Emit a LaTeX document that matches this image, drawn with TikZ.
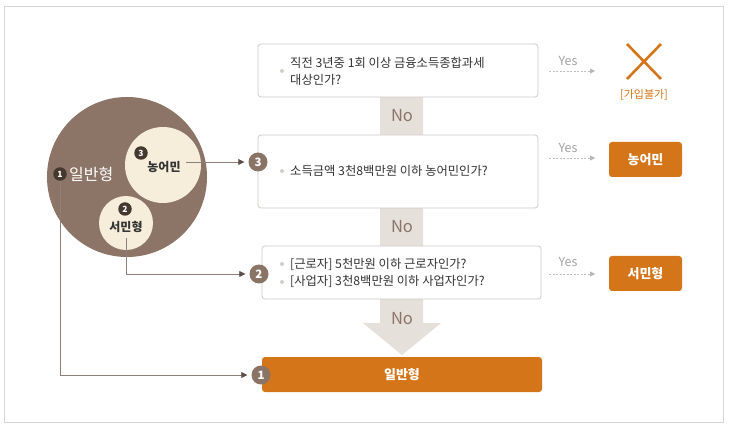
\documentclass[tikz,border=0pt]{standalone}
\usepackage{fontspec}
\setmainfont{Noto Sans CJK KR}
\usetikzlibrary{arrows.meta}
\definecolor{framec}{HTML}{D6D6D6}
\definecolor{bigbrown}{HTML}{8C7466}
\definecolor{cream}{HTML}{F6EEDB}
\definecolor{darkbadge}{HTML}{44382F}
\definecolor{flowbadge}{HTML}{8A7465}
\definecolor{orangec}{HTML}{D4751A}
\definecolor{bandc}{HTML}{E5E0DA}
\definecolor{boxline}{HTML}{D0CBC5}
\definecolor{txtc}{HTML}{333333}
\definecolor{noc}{HTML}{8C7466}
\definecolor{yesc}{HTML}{A3A3A3}
\definecolor{linec}{HTML}{8E8078}
\definecolor{tipc}{HTML}{5E5048}
\definecolor{dotc}{HTML}{D2CEC8}
\begin{document}
\begin{tikzpicture}[x=1pt,y=-1pt,
  qbox/.style={draw=boxline,fill=white,rounded corners=3pt,line width=0.8pt},
  obox/.style={fill=orangec,rounded corners=3pt},
  smallbadge/.style={circle,fill=darkbadge,inner sep=0pt,minimum size=13.5pt,text=white,font=\fontsize{8.5}{8.5}\selectfont\bfseries},
  flowbadge/.style={circle,fill=flowbadge,inner sep=0pt,minimum size=19pt,text=white,font=\fontsize{11.5}{11.5}\selectfont\bfseries},
  qtext/.style={anchor=west,text=txtc,font=\fontsize{12.3}{17}\selectfont,align=left,inner sep=0pt},
  notext/.style={text=noc,font=\fontsize{16.5}{16.5}\selectfont},
  yestext/.style={text=yesc,font=\fontsize{12.5}{12.5}\selectfont},
  otext/.style={text=white,font=\fontsize{13}{13}\selectfont\bfseries},
  ctext/.style={text=txtc,font=\fontsize{12}{12}\selectfont\bfseries},
  bulletdot/.style={circle,fill=dotc,inner sep=0pt,minimum size=4pt},
  conn/.style={draw=linec,line width=0.8pt,-{Triangle[length=6pt,width=6pt,color=tipc]}},
  yesarrow/.style={draw=yesc!70,dashed,dash pattern=on 2pt off 1.5pt,line width=0.6pt,-{Triangle[length=5pt,width=5pt,color=yesc!80]}}
]
\useasboundingbox (0,0) rectangle (732,433);
\fill[white] (0,0) rectangle (732,433);
\draw[framec,line width=1pt] (4,7) rectangle (723,422);

% flow band and arrow
\fill[bandc] (380,97) -- (423,97) -- (423,323) -- (441,323) -- (402,355) -- (363,323) -- (380,323) -- cycle;

% question boxes
\draw[qbox] (258,44) rectangle (538,97);
\draw[qbox] (258,135) rectangle (538,208);
\draw[qbox] (262,246) rectangle (541,299);
\fill[obox] (262,357) rectangle (542,392);

\node[bulletdot] (d1) at (282,71) {};
\node[qtext] (q1) at (290,71) {직전 3년중 1회 이상 금융소득종합과세\\대상인가?};
\node[bulletdot] (d2) at (282,171) {};
\node[qtext] (q2) at (290,171) {소득금액 3천8백만원 이하 농어민인가?};
\node[bulletdot] (d3a) at (282,264) {};
\node[bulletdot] (d3b) at (282,282) {};
\node[qtext] (q3) at (290,273) {[근로자] 5천만원 이하 근로자인가?\\{}[사업자] 3천8백만원 이하 사업자인가?};
\node[otext] (gen) at (402,375) {일반형};

\node[notext] (no1) at (402,116) {No};
\node[notext] (no2) at (402,227) {No};
\node[notext] (no3) at (402,319) {No};

% yes arrows
\node[yestext] (y1) at (568,61) {Yes};
\node[yestext] (y2) at (568,148) {Yes};
\node[yestext] (y3) at (568,262) {Yes};
\coordinate (ya1) at (549,71); \coordinate (yb1) at (595,71);
\coordinate (ya2) at (549,158); \coordinate (yb2) at (595,158);
\coordinate (ya3) at (549,274); \coordinate (yb3) at (595,274);
\draw[yesarrow] (ya1) -- (yb1);
\draw[yesarrow] (ya2) -- (yb2);
\draw[yesarrow] (ya3) -- (yb3);

% results
\coordinate (xa) at (627,44); \coordinate (xb) at (661,79);
\coordinate (xc) at (661,44); \coordinate (xd) at (627,79);
\draw[orangec,line width=2.6pt] (xa) -- (xb) (xc) -- (xd);
\node[text=orangec,font=\fontsize{11}{11}\selectfont] (deny) at (644,95) {[가입불가]};
\fill[obox] (609,142) rectangle (682,177);
\node[otext] (farmres) at (645.5,159.5) {농어민};
\fill[obox] (609,256) rectangle (682,291);
\node[otext] (seores) at (645.5,273.5) {서민형};

% circles
\fill[bigbrown] (127,177) circle (80);
\fill[cream] (163,165) circle (38);
\fill[cream] (126,223) circle (27);
\node[smallbadge] (s1) at (60,174) {1};
\node[text=white,font=\fontsize{16}{16}\selectfont,anchor=west,inner sep=0pt] (gentxt) at (69,174) {일반형};
\node[smallbadge] (s3) at (141,153) {3};
\node[ctext] (farmtxt) at (164,167) {농어민};
\node[smallbadge] (s2) at (125,209) {2};
\node[ctext] (seotxt) at (126,227) {서민형};

% flow badges
\node[flowbadge] (b3) at (258,162) {3};
\node[flowbadge] (b2) at (259,274) {2};
\node[flowbadge] (b1) at (261,375) {1};

% connectors
\draw[conn,shorten <=2pt,shorten >=4pt] (farmtxt.east |- b3) -- (b3.west);
\draw[conn,shorten >=4pt] (seotxt.south) ++(0,2) |- (b2.west);
\draw[conn,shorten >=4pt] (s1.south) |- (b1.west);
\end{tikzpicture}
\end{document}
